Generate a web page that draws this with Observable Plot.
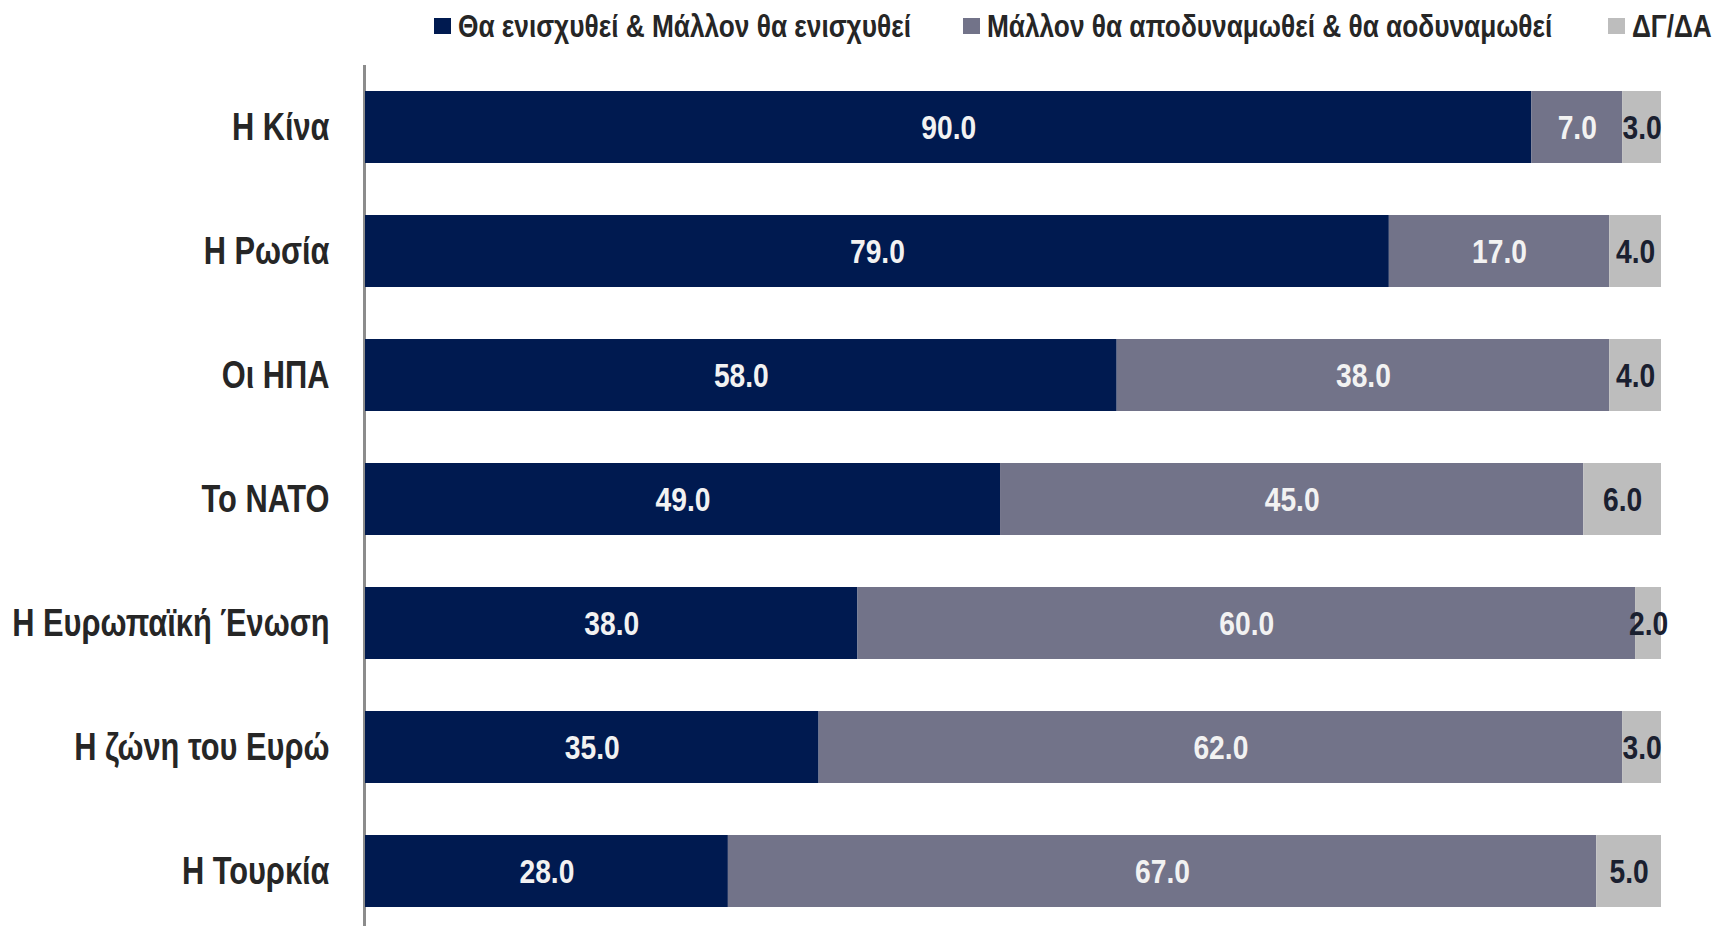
<!DOCTYPE html>
<html>
<head>
<meta charset="utf-8">
<script src="https://cdn.jsdelivr.net/npm/d3@7"></script>
<script src="https://cdn.jsdelivr.net/npm/@observablehq/plot@0.6"></script>
<style>
  html, body { margin: 0; padding: 0; background: #fff; }
  body { width: 1715px; height: 926px; overflow: hidden; font-family: "Liberation Sans", Arial, sans-serif; }
  #legend { height: 55px; position: relative; white-space: nowrap; }
  .sw { position: absolute; top: 18px; width: 17px; height: 16px; }
  .lt { position: absolute; top: 7px; font-weight: bold; font-size: 32px; line-height: 38px; color: #262626; transform: scaleX(0.82); transform-origin: 0 50%; }
  svg { display: block; }
</style>
</head>
<body>
<div id="legend"></div>
<div id="chart"></div>
<script>
const categories = ["Η Κίνα", "Η Ρωσία", "Οι ΗΠΑ", "Το ΝΑΤΟ", "Η Ευρωπαϊκή Ένωση", "Η ζώνη του Ευρώ", "Η Τουρκία"];
const seriesNames = ["Θα ενισχυθεί & Μάλλον θα ενισχυθεί", "Μάλλον θα αποδυναμωθεί & θα αοδυναμωθεί", "ΔΓ/ΔΑ"];
const strengthen = [90.0, 79.0, 58.0, 49.0, 38.0, 35.0, 28.0];
const weaken = [7.0, 17.0, 38.0, 45.0, 60.0, 62.0, 67.0];
const dkna = [3.0, 4.0, 4.0, 6.0, 2.0, 3.0, 5.0];
const colors = ["#001a50", "#727389", "#bdbdbd"];
const labelColors = ["#f2f2f2", "#f2f2f2", "#1a2030"];

const seriesValues = [strengthen, weaken, dkna];
const data = [];
categories.forEach((c, i) => {
  seriesValues.forEach((vals, s) => {
    data.push({cat: c, series: seriesNames[s], value: vals[i], labelColor: labelColors[s]});
  });
});

// legend (HTML, above the SVG)
const legend = document.getElementById("legend");
const legendLeft = [434, 963, 1608];
seriesNames.forEach((n, i) => {
  const sw = document.createElement("div");
  sw.className = "sw";
  sw.style.left = legendLeft[i] + "px";
  sw.style.background = colors[i];
  legend.appendChild(sw);
  const t = document.createElement("div");
  t.className = "lt";
  t.style.left = (legendLeft[i] + 24) + "px";
  t.textContent = n;
  legend.appendChild(t);
});

const font = '"Liberation Sans", Arial, sans-serif';

const chart = Plot.plot({
  width: 1715,
  height: 871,
  marginLeft: 365,
  marginRight: 54,
  marginTop: 10,
  marginBottom: 0,
  style: {fontFamily: font, background: "#fff"},
  x: {domain: [0, 100], axis: null},
  y: {domain: categories, range: [10, 878], paddingInner: 0.42, paddingOuter: 0.21, label: null},
  color: {domain: seriesNames, range: colors},
  marks: [
    Plot.ruleX([0], {stroke: "#8c8c8c", strokeWidth: 3, dx: -1}),
    Plot.barX(data, Plot.stackX({x: "value", y: "cat", fill: "series", z: "series", order: seriesNames})),
    Plot.text(data, Plot.stackX({
      x: "value", y: "cat", z: "series", order: seriesNames,
      text: d => d.value.toFixed(1),
      fill: "labelColor",
      fontSize: 34, fontWeight: "bold", dy: 1
    })),
    Plot.axisY({tickSize: 0, tickPadding: 36, fontSize: 38, fontWeight: "bold", color: "#262626", label: null})
  ]
});
document.getElementById("chart").appendChild(chart);

// condense chart texts horizontally (narrow bold look), keeping each anchor point
chart.querySelectorAll("text").forEach(t => {
  const isAxis = (t.parentNode.getAttribute("aria-label") || "").includes("axis");
  const k = isAxis ? 0.81 : 0.83;
  const tr = t.getAttribute("transform") || "";
  t.setAttribute("transform", `${tr} scale(${k},1)`);
});
</script>
</body>
</html>
